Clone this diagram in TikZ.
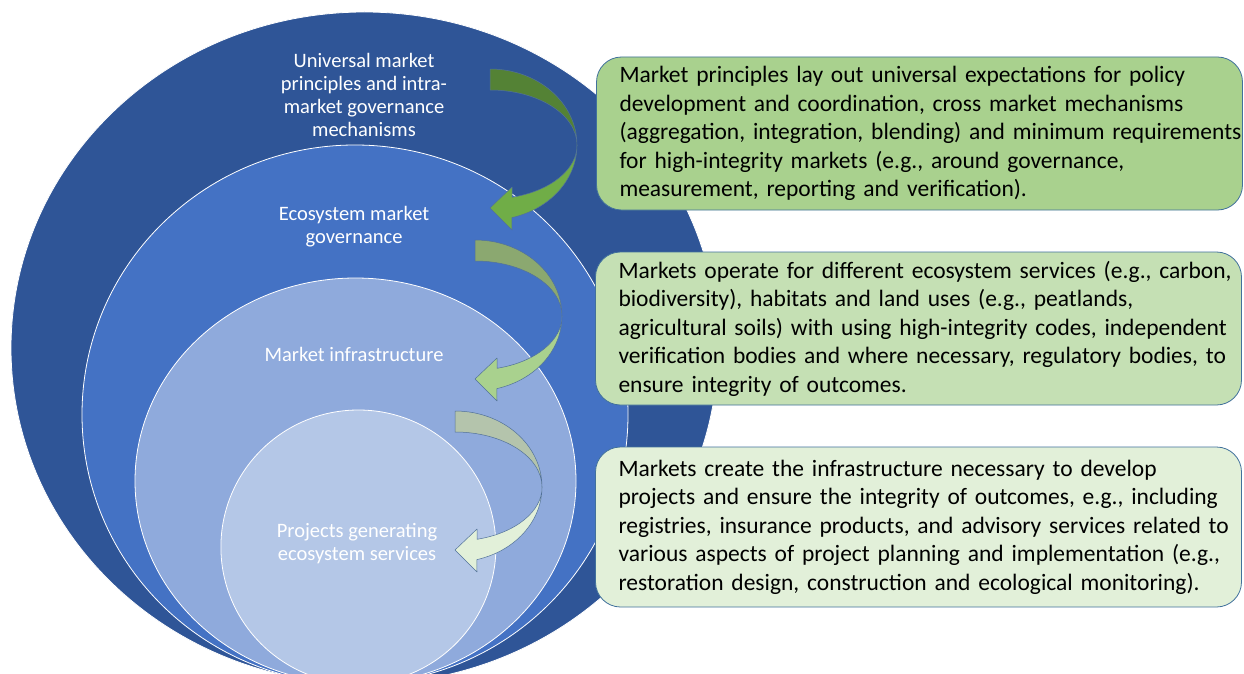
\documentclass[tikz,border=0pt]{standalone}
\usepackage{fontspec}
\setmainfont{Carlito}
\definecolor{blueA}{HTML}{2F5597}
\definecolor{blueB}{HTML}{4472C4}
\definecolor{blueC}{HTML}{8FAADC}
\definecolor{blueD}{HTML}{B4C7E7}
\definecolor{greenA}{HTML}{A9D18E}
\definecolor{greenB}{HTML}{C5E0B4}
\definecolor{greenC}{HTML}{E2F0D9}
\definecolor{arrAback}{HTML}{548235}
\definecolor{arrAfront}{HTML}{70AD47}
\definecolor{arrBback}{HTML}{8BA870}
\definecolor{arrBfront}{HTML}{A9D18E}
\definecolor{arrCback}{HTML}{B4C4AC}
\definecolor{arrCfront}{HTML}{E2F0D9}
\definecolor{boxline}{HTML}{41719C}
\definecolor{arrline}{HTML}{51719A}
\newcommand\curlarrow[4]{%
  \filldraw[arrowpart, fill=#3] ({#1},{#2-76})
    arc[start angle=-90, end angle=0, x radius=87, y radius=76]
    arc[start angle=0, end angle=-90, x radius=87, y radius=55] -- cycle;
  \filldraw[arrowpart, fill=#4] ({#1+87},{#2})
    arc[start angle=0, end angle=75.4, x radius=87, y radius=75]
    -- ({#1+22},{#2+85}) -- ({#1},{#2+63}) -- ({#1+22},{#2+42})
    -- ({#1+22},{#2+52.3})
    arc[start angle=75.4, end angle=0, x radius=87, y radius=54] -- cycle;
}
\begin{document}
\begin{tikzpicture}[x=1pt,y=-1pt,
  ring/.style={draw=white, line width=0.8pt},
  ringlabel/.style={text=white, align=center, font=\fontsize{20.5}{22.7}\selectfont, inner sep=0pt},
  infobox/.style={draw=boxline, line width=0.8pt, rounded corners=25pt, text width=646pt,
    inner xsep=0pt, inner ysep=0pt, minimum height=153pt, align=left,
    font=\fontsize{23.5}{28.5}\selectfont, text=black},
  arrowpart/.style={draw=arrline, line width=0.5pt, line join=round}
]
\path[use as bounding box] (0,0) rectangle (1244,674);
\fill[white] (0,0) rectangle (1244,674);
\begin{scope}
  \clip (0,0) rectangle (1244,674);
  \draw[ring, fill=blueA] (364.5,348) ellipse [x radius=353.5, y radius=336];
  \draw[ring, fill=blueB] (355,414.5) ellipse [x radius=273, y radius=269.5];
  \draw[ring, fill=blueC] (355.5,481) ellipse [x radius=220.5, y radius=203];
  \draw[ring, fill=blueD] (358.4,547) ellipse [x radius=137.5, y radius=137];
\end{scope}

\node[ringlabel] (t1) at (364,95) {Universal market\\principles and intra-\\market governance\\mechanisms};
\node[ringlabel] (t2) at (354,226.5) {Ecosystem market\\governance};
\node[ringlabel] (t3) at (354,354) {Market infrastructure};
\node[ringlabel] (t4) at (357,543.5) {Projects generating\\ecosystem services};

\curlarrow{490}{145}{arrAback}{arrAfront}
\curlarrow{475}{316}{arrBback}{arrBfront}
\curlarrow{455}{487}{arrCback}{arrCfront}

\node[infobox, fill=greenA] (b1) at (919.5,133.5) {\leftskip=23pt\noindent Market principles lay out universal expectations for policy\\ development and coordination, cross market mechanisms\\ (aggregation, integration, blending) and minimum requirements\\ for high-integrity markets (e.g., around governance,\\ measurement, reporting and verification).\par};
\node[infobox, fill=greenB] (b2) at (918.5,328.5) {\leftskip=23pt\noindent Markets operate for different ecosystem services (e.g., carbon,\\ biodiversity), habitats and land uses (e.g., peatlands,\\ agricultural soils) with using high-integrity codes, independent\\ verification bodies and where necessary, regulatory bodies, to\\ ensure integrity of outcomes.\par};
\node[infobox, fill=greenC, minimum height=160pt] (b3) at (918.5,527) {\leftskip=23pt\noindent Markets create the infrastructure necessary to develop\\ projects and ensure the integrity of outcomes, e.g., including\\ registries, insurance products, and advisory services related to\\ various aspects of project planning and implementation (e.g.,\\ restoration design, construction and ecological monitoring).\par};
\end{tikzpicture}
\end{document}
